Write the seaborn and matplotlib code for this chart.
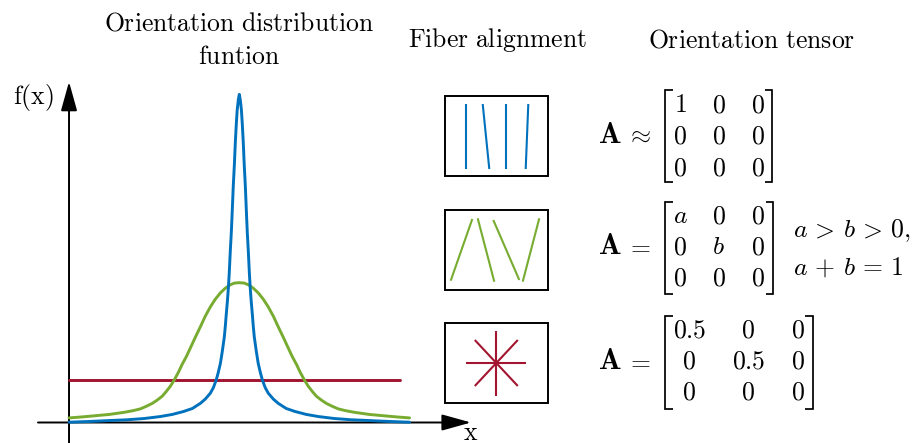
import matplotlib
matplotlib.use("Agg")
import matplotlib.pyplot as plt
import numpy as np
import pandas as pd
import seaborn as sns
from matplotlib.patches import Rectangle

# ---------------- data ----------------
# orientation distribution functions (angle in degrees, f normalised so that uniform = 1)
blue_angle = [-90, -79.3, -68.2, -59.2, -50.2, -41.8, -35.4, -29.4, -24.8, -20.6, -18.0, -15.3, -13.7,
              -12.2, -11.1, -10.0, -9.0, -7.9, -7.4, -6.9, -6.3, -5.8, -5.3, -4.8, -4.2, -3.7, -3.2,
              -2.6, -2.1, -1.6, -1.1, -0.5, 0,
              0.5, 1.1, 1.6, 2.1, 2.6, 3.2, 3.7, 4.2, 4.8, 5.3, 5.8, 6.3, 6.9, 7.4, 7.9, 9.0, 10.0,
              11.1, 12.2, 13.7, 15.3, 18.0, 20.6, 24.8, 29.4, 35.4, 41.8, 50.2, 59.2, 68.2, 79.3, 90]
blue_f = [0.007, 0.024, 0.047, 0.064, 0.094, 0.14, 0.19, 0.26, 0.33, 0.45, 0.55, 0.69, 0.82,
          1.00, 1.18, 1.39, 1.67, 2.02, 2.26, 2.54, 2.85, 3.15, 3.53, 4.00, 4.49, 5.01, 5.55,
          6.07, 6.59, 7.01, 7.36, 7.60, 7.72,
          7.60, 7.36, 7.01, 6.59, 6.07, 5.55, 5.01, 4.49, 4.00, 3.53, 3.15, 2.85, 2.54, 2.26, 2.02, 1.67, 1.39,
          1.18, 1.00, 0.82, 0.69, 0.55, 0.45, 0.33, 0.26, 0.19, 0.14, 0.094, 0.064, 0.047, 0.024, 0.007]

green_angle = [-90, -83.5, -77.2, -68.7, -60.8, -56.0, -52.3, -49.2, -46.0, -43.3, -40.7, -38.6, -36.5,
               -34.4, -32.2, -30.3, -28.0, -25.9, -23.3, -20.6, -18.0, -15.3, -12.7, -10.0, -7.4, -4.8, -2.6,
               0, 2.6, 4.8, 7.4, 10.0, 12.7, 15.3, 18.0, 20.6, 23.3, 25.9, 28.0, 30.3, 32.2, 34.4, 36.5,
               38.6, 40.7, 43.3, 46.0, 49.2, 52.3, 56.0, 60.8, 68.7, 77.2, 83.5, 90]
green_f = [0.108, 0.13, 0.155, 0.19, 0.24, 0.28, 0.32, 0.38, 0.45, 0.53, 0.62, 0.73, 0.85,
           1.00, 1.18, 1.36, 1.55, 1.75, 2.00, 2.25, 2.50, 2.72, 2.90, 3.05, 3.16, 3.24, 3.28,
           3.29, 3.28, 3.24, 3.16, 3.05, 2.90, 2.72, 2.50, 2.25, 2.00, 1.75, 1.55, 1.36, 1.18, 1.00, 0.85,
           0.73, 0.62, 0.53, 0.45, 0.38, 0.32, 0.28, 0.24, 0.19, 0.155, 0.13, 0.108]

red_angle = [-90, 85]
red_f = [1.0, 1.0]

series_names = ["isotropic", "planar", "aligned"]
series_colors = {"aligned": "#0072BD", "planar": "#77AC30", "isotropic": "#A2142F"}

titles = ["Orientation distribution", "funtion", "Fiber alignment", "Orientation tensor"]

# fibre sketches: segment end points relative to the box centre (px, y downwards)
aligned_x0 = [-30.6, -13.6, 10.0, 32.0]
aligned_y0 = [-32.3, -32.3, -32.3, -32.3]
aligned_x1 = [-30.6, -7.0, 10.0, 29.4]
aligned_y1 = [32.7, 32.7, 32.7, 32.7]

planar_x0 = [-45.6, -18.6, -3.0, 43.0]
planar_y0 = [31.0, -31.4, -29.7, -31.4]
planar_x1 = [-24.0, -2.0, 23.0, 26.4]
planar_y1 = [-30.7, 32.0, 30.3, 32.0]

iso_x0 = [0.0, -30.0, -21.5, 21.5]
iso_y0 = [-32.5, 0.0, -23.0, -23.0]
iso_x1 = [0.0, 30.0, 21.5, -21.5]
iso_y1 = [32.5, 0.0, 23.0, 23.0]

# orientation tensors
matrix_aligned = [["1", "0", "0"], ["0", "0", "0"], ["0", "0", "0"]]
matrix_planar = [["a", "0", "0"], ["0", "b", "0"], ["0", "0", "0"]]
matrix_iso = [["0.5", "0", "0"], ["0", "0.5", "0"], ["0", "0", "0"]]
relations = [r"\approx", "=", "="]
planar_conditions = [r"a\, >\, b\, >\, 0,", r"a\,+\,b\,=\,1"]

# ---------------- style ----------------
sns.set_theme(style="white")
plt.rcParams["mathtext.fontset"] = "cm"
plt.rcParams["font.family"] = ["DejaVu Serif"]

W, H = 917, 443
fig = plt.figure(figsize=(W / 100, H / 100), dpi=100)
fig.patch.set_facecolor("white")

FS = 18.5

# ---------------- ODF plot ----------------
# pixel mapping: px_x = 239.3 + 1.892*deg ; px_y = 422.5 - 42.5*f
def deg_of(px):
    return (px - 239.3) / 1.892

def f_of(py):
    return (422.5 - py) / 42.5

x_lo, x_hi = deg_of(38), deg_of(471)
y_lo, y_hi = f_of(443), f_of(81.7)
ax = fig.add_axes([38 / W, 0, (471 - 38) / W, (443 - 81.7) / H])
ax.set_xlim(x_lo, x_hi)
ax.set_ylim(y_lo, y_hi)
ax.axis("off")

df = pd.concat([
    pd.DataFrame({"angle": blue_angle, "f": blue_f, "series": "aligned"}),
    pd.DataFrame({"angle": green_angle, "f": green_f, "series": "planar"}),
    pd.DataFrame({"angle": red_angle, "f": red_f, "series": "isotropic"}),
])
sns.lineplot(data=df, x="angle", y="f", hue="series", hue_order=series_names,
             palette=series_colors, linewidth=2.1, legend=False, ax=ax, zorder=4,
             estimator=None, sort=False)
for ln in ax.get_lines():
    ln.set_linewidth(2.1)
    ln.set_solid_joinstyle("round")

arrow_kw = dict(arrowstyle="-|>,head_length=1.8,head_width=0.5", color="black",
                lw=1.4, shrinkA=0, shrinkB=0, mutation_scale=10)
ax.annotate("", xy=(x_hi, 0), xytext=(x_lo, 0), arrowprops=arrow_kw, zorder=1)
ax.annotate("", xy=(-90, y_hi), xytext=(-90, y_lo), arrowprops=arrow_kw, zorder=1)

# ---------------- overlay (pixel coordinates) ----------------
ov = fig.add_axes([0, 0, 1, 1])
ov.set_xlim(0, W)
ov.set_ylim(H, 0)
ov.axis("off")

def txt(x, y, s, ha="center", size=FS):
    ov.text(x, y, s, ha=ha, va="baseline", fontsize=size, color="black")

def mrm(s):
    return r"$\mathrm{" + s.replace(" ", r"\ ") + "}$"

txt(239.5, 30, mrm(titles[0]))
txt(239.0, 64, mrm(titles[1]))
txt(497.0, 47.3, mrm(titles[2]))
txt(752.0, 47.3, mrm(titles[3]))
txt(12.7, 104, r"$\mathrm{f(x)}$", ha="left")
txt(470.7, 439.5, r"$\mathrm{x}$")

# fibre boxes
box_cx = 496.3
box_cy = [136.3, 249.7, 363.0]
box_w, box_h = 102.7, 80.0
fibres = [
    (aligned_x0, aligned_y0, aligned_x1, aligned_y1, series_colors["aligned"]),
    (planar_x0, planar_y0, planar_x1, planar_y1, series_colors["planar"]),
    (iso_x0, iso_y0, iso_x1, iso_y1, series_colors["isotropic"]),
]
for cy, (x0, y0, x1, y1, col) in zip(box_cy, fibres):
    ov.add_patch(Rectangle((box_cx - box_w / 2, cy - box_h / 2), box_w, box_h,
                           fill=False, ec="black", lw=1.4))
    for a, b, c, d in zip(x0, y0, x1, y1):
        ov.plot([box_cx + a, box_cx + c], [cy + b, cy + d], color=col, lw=1.5,
                solid_capstyle="butt")

# tensors
def bracket(xl, xr, yt, yb, serif=7.5):
    kw = dict(color="black", lw=1.25, solid_capstyle="butt", solid_joinstyle="miter")
    ov.plot([xl + serif, xl, xl, xl + serif], [yt, yt, yb, yb], **kw)
    ov.plot([xr - serif, xr, xr, xr - serif], [yt, yt, yb, yb], **kw)

def matrix(entries, cols, rows, xl, xr, yt, yb):
    for r, row in enumerate(entries):
        for c, e in enumerate(row):
            txt(cols[c], rows[r], "$" + e + "$")
    bracket(xl, xr, yt, yb)

tensor_specs = [
    (matrix_aligned, [680.0, 718.5, 757.5], [112.3, 143.3, 175.0], 665, 772.3, 90.0, 182.3),
    (matrix_planar, [680.0, 718.7, 758.3], [223.3, 254.3, 285.0], 665, 773.3, 202.3, 294.0),
    (matrix_iso, [689.3, 748.3, 798.3], [337.7, 368.7, 400.0], 665, 812.7, 316.0, 409.3),
]
for rel, (ent, cols, rows, xl, xr, yt, yb) in zip(relations, tensor_specs):
    txt(609.7, rows[1], r"$\mathbf{A}$", size=21.5)
    txt(638.7, rows[1], "$" + rel + "$")
    matrix(ent, cols, rows, xl, xr, yt, yb)

txt(793.3, 236.7, "$" + planar_conditions[0] + "$", ha="left")
txt(793.3, 275.0, "$" + planar_conditions[1] + "$", ha="left")

fig.savefig("out.png", dpi=100, facecolor="white")
